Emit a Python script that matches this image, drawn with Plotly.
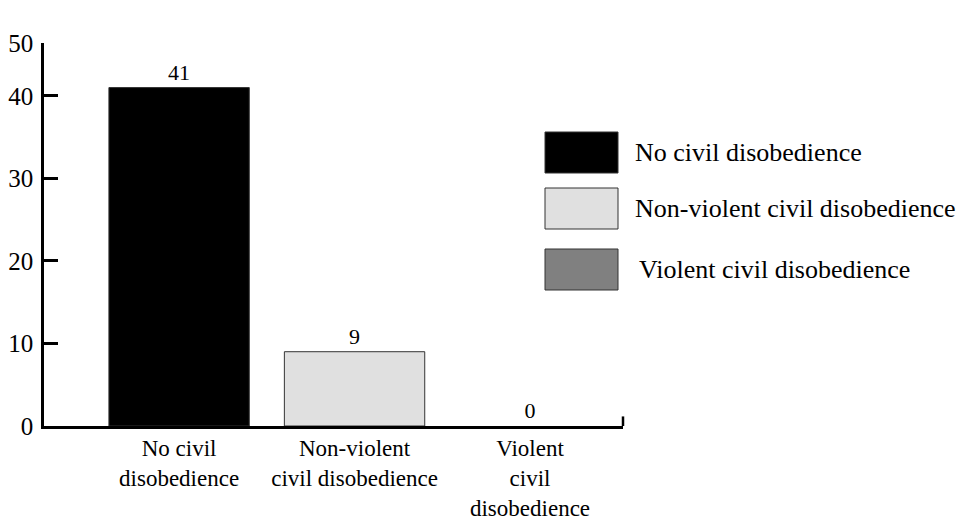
import plotly.graph_objects as go

categories = ["No civil<br>disobedience", "Non-violent<br>civil disobedience", "Violent<br>civil<br>disobedience"]
legend_names = ["No civil disobedience", "Non-violent civil disobedience", "Violent civil disobedience"]
values = [41, 9, 0]
colors = ["#000000", "#e0e0e0", "#808080"]
ytick_vals = [0, 10, 20, 30, 40, 46.4]
ytick_text = ["0", "10", "20", "30", "40", "50"]

FONT = "Times New Roman, Liberation Serif, Tinos, DejaVu Serif, serif"
x = list(range(len(values)))

fig = go.Figure()
fig.add_trace(go.Bar(
    x=x, y=values, width=0.8,
    marker=dict(color=colors, line=dict(color="#333333", width=[1, 1, 0])),
    text=[str(v) for v in values], textposition="outside",
    textfont=dict(family=FONT, size=22, color="#000"),
    cliponaxis=False, showlegend=False,
))

fig.update_layout(
    width=971, height=521,
    margin=dict(l=44, r=348, t=43, b=95, autoexpand=False),
    plot_bgcolor="white", paper_bgcolor="white",
    font=dict(family=FONT, size=22, color="#000"),
    bargap=0.2,
)
fig.update_xaxes(
    range=[-0.77, 2.53], tickvals=x, ticktext=categories, automargin=False,
    showline=True, linecolor="#000", linewidth=2.5, ticks="", showgrid=False,
    zeroline=False, tickfont=dict(family=FONT, size=23),
)
fig.update_yaxes(
    range=[0, 46.4], tickvals=ytick_vals, ticktext=ytick_text, automargin=False,
    showline=True, linecolor="#000", linewidth=2.5, ticks="inside", ticklen=14,
    tickwidth=2.5, tickcolor="#000", showgrid=False, zeroline=False,
    ticklabelstandoff=3, tickfont=dict(family=FONT, size=25),
)
# small end tick at right end of x axis
fig.add_shape(type="line", xref="paper", yref="paper", x0=1, x1=1, y0=0, y1=0.025,
              line=dict(color="#000", width=2.5))

# legend drawn as boxes + labels
box_tops = [132, 188, 249]
box_h = 41
for i, name in enumerate(legend_names):
    y0 = 1 - (box_tops[i] + box_h - 43) / 383
    y1 = 1 - (box_tops[i] - 43) / 383
    x0 = (545 - 44) / 579
    x1 = (618 - 44) / 579
    fig.add_shape(type="rect", xref="paper", yref="paper", x0=x0, x1=x1, y0=y0, y1=y1,
                  fillcolor=colors[i], line=dict(color="#333333", width=1))
    tx = (633 - 44) / 579 if i < 2 else (637 - 44) / 579
    fig.add_annotation(xref="paper", yref="paper", x=tx, y=(y0 + y1) / 2,
                       text=name, showarrow=False, xanchor="left", yanchor="middle",
                       font=dict(family=FONT, size=26, color="#000"))

fig.write_html("out.html", config={"displayModeBar": False},
               post_script="document.body.style.margin='0';")
